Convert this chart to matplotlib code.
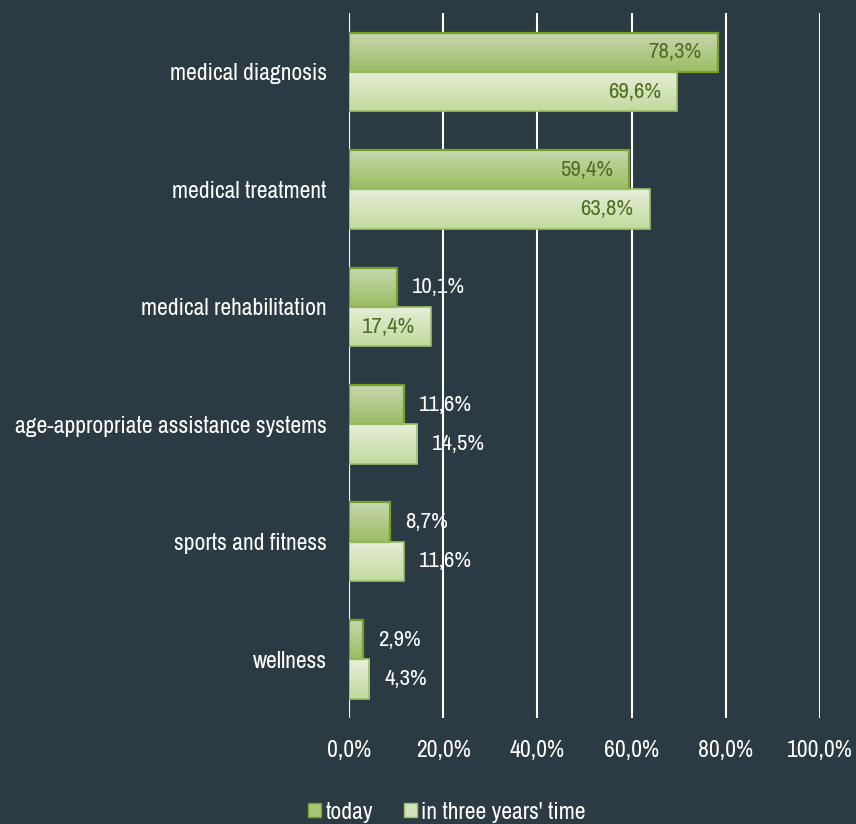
import numpy as np
import matplotlib.pyplot as plt
from matplotlib import font_manager as fm
from matplotlib.colors import LinearSegmentedColormap
from matplotlib.patches import Patch

categories = ["medical diagnosis", "medical treatment", "medical rehabilitation",
              "age-appropriate assistance systems", "sports and fitness", "wellness"]
today = [78.3, 59.4, 10.1, 11.6, 8.7, 2.9]
three_years = [69.6, 63.8, 17.4, 14.5, 11.6, 4.3]
series_names = ["today", "in three years' time"]
xticks = [0, 20, 40, 60, 80, 100]

bg = "#2b3a43"
# narrow font if there is one, else plain Liberation Sans
fam = "Liberation Sans"
fsize, lsize = 14, 14
for f in fm.fontManager.ttflist:
    if ("Narrow" in f.name or "Condensed" in f.name) and "Mono" not in f.name:
        fam = f.name
        fsize, lsize = 17, 16.5
        break
plt.rcParams['font.family'] = [fam, 'DejaVu Sans']

fig = plt.figure(figsize=(8.56, 8.24), dpi=100, facecolor=bg)
ax = fig.add_axes([0.4077, 0.1286, 0.5503, 0.8554])
ax.set_facecolor(bg)

h = 0.335
y = np.arange(len(categories))

# gradient fills (top light -> bottom darker)
cm_today = LinearSegmentedColormap.from_list("t", ["#c9d8b0", "#9cbc62"])
cm_three = LinearSegmentedColormap.from_list("f", ["#e6efd9", "#c3d99d"])
grad = np.linspace(0, 1, 64).reshape(-1, 1)

def draw(vals, offs, cmap, edge, lw):
    bars = ax.barh(y + offs, vals, height=h, color="none", edgecolor=edge,
                   linewidth=lw, zorder=3)
    for b in bars:
        x0, y0 = b.get_x(), b.get_y()
        w, hh = b.get_width(), b.get_height()
        im = ax.imshow(grad, cmap=cmap, aspect="auto", origin="upper",
                       extent=[x0, x0 + w, y0 + hh, y0], zorder=2)
        im.set_clip_path(b)
    return bars

draw(today, -h / 2, cm_today, "#76a02a", 1.6)
draw(three_years, h / 2, cm_three, "#9dbf68", 1.2)

for vals, offs in ((today, -h / 2), (three_years, h / 2)):
    for i, v in enumerate(vals):
        lab = ("%.1f%%" % v).replace(".", ",")
        if v >= 15:
            ax.text(v - 3.4, i + offs, lab, ha="right", va="center",
                    color="#536e22", fontsize=lsize, zorder=4)
        else:
            ax.text(v + 3.2, i + offs, lab, ha="left", va="center",
                    color="white", fontsize=lsize, zorder=4)

ax.set_xlim(0, 100)
ax.set_ylim(len(categories) - 0.5, -0.5)
ax.set_xticks(xticks)
ax.set_xticklabels([("%.1f%%" % t).replace(".", ",") for t in xticks],
                   color="white", fontsize=fsize)
ax.set_yticks(y)
ax.set_yticklabels(categories, color="white", fontsize=fsize)
ax.tick_params(length=0)
ax.tick_params(axis="y", pad=16)
ax.tick_params(axis="x", pad=16)
ax.grid(axis="x", color="white", linewidth=1.5, zorder=1)
for s in ax.spines.values():
    s.set_visible(False)
ax.axvline(0, color="white", linewidth=1.5, zorder=1)

handles = [Patch(facecolor="#a9c673", edgecolor="#76a02a"),
           Patch(facecolor="#d3e4b8", edgecolor="#9dbf68")]
fig.legend(handles, series_names, loc="lower center", bbox_to_anchor=(0.522, -0.024),
           ncol=2, frameon=False, fontsize=fsize, labelcolor="white",
           handlelength=0.55, handleheight=0.55, handletextpad=0.2, columnspacing=1.3)

fig.savefig("out.png", dpi=100, facecolor=bg)
